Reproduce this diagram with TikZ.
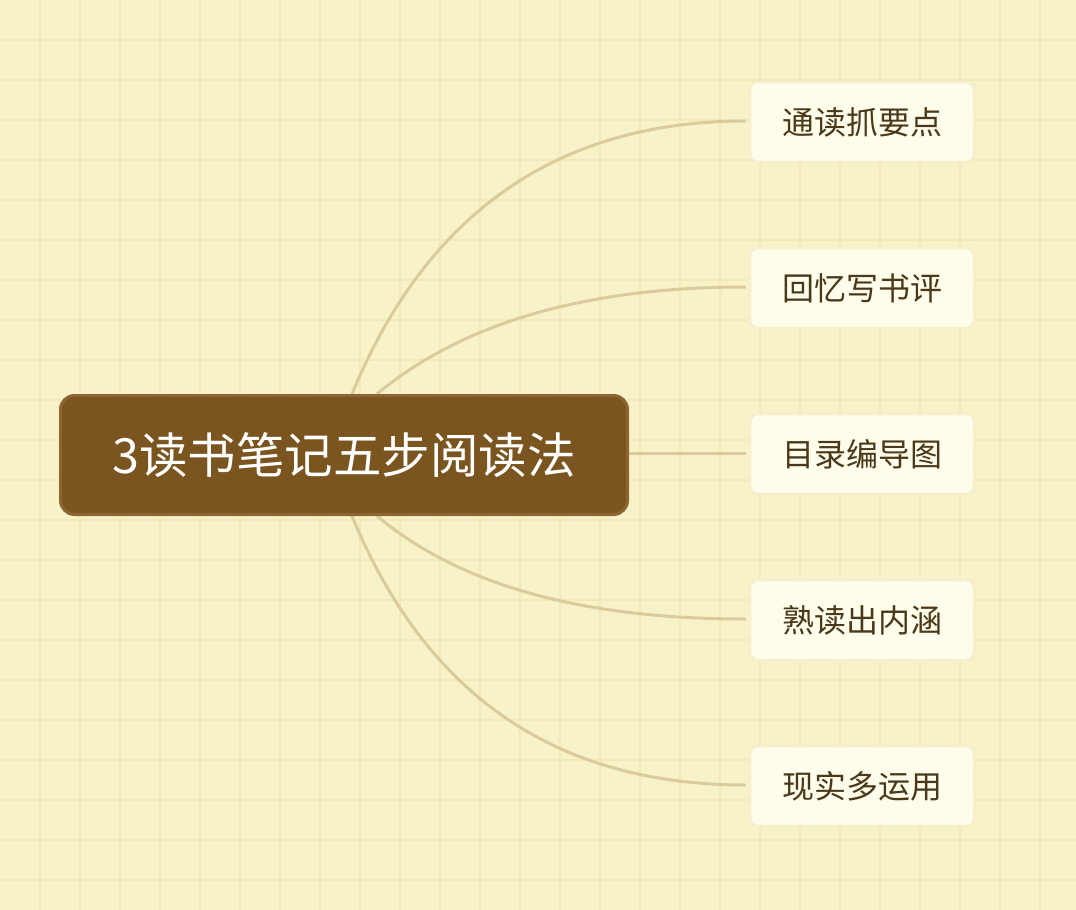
\documentclass[tikz,border=0pt]{standalone}
\usepackage{fontspec}
\newfontfamily\cjk{Noto Sans CJK SC}
\usetikzlibrary{calc}
\pgfdeclarelayer{bg}
\pgfsetlayers{bg,main}
\definecolor{paper}{HTML}{F7F2C8}
\definecolor{gridc}{HTML}{F2E9B5}
\definecolor{rootfill}{HTML}{7A5520}
\definecolor{rootedge}{HTML}{8D6532}
\definecolor{leaffill}{HTML}{FEFDEC}
\definecolor{leafedge}{HTML}{F5EFCD}
\definecolor{leaftext}{HTML}{4A3819}
\definecolor{linkc}{HTML}{DACB9D}
\tikzset{
  rootbox/.style={draw=rootedge, line width=3pt, fill=rootfill, rounded corners=14pt,
    minimum width=567pt, minimum height=119pt, inner sep=0pt, text=white,
    font=\cjk\fontsize{48.5}{52}\selectfont},
  leafbox/.style={draw=leafedge, line width=2.5pt, fill=leaffill, rounded corners=8pt,
    minimum width=224pt, minimum height=80pt, inner sep=0pt, text=leaftext,
    font=\cjk\fontsize{32}{35}\selectfont},
  link/.style={draw=linkc, line width=3pt},
  gridline/.style={draw=gridc, line width=2.5pt}
}
\begin{document}
\begin{tikzpicture}[x=1pt,y=-1pt]
\useasboundingbox (0,0) rectangle (1076,910);

\node[rootbox] (root) at (344,455) {3读书笔记五步阅读法};
\node[leafbox] (l1) at (862,122) {通读抓要点};
\node[leafbox] (l2) at (862,288) {回忆写书评};
\node[leafbox] (l3) at (862,454) {目录编导图};
\node[leafbox] (l4) at (862,620) {熟读出内涵};
\node[leafbox] (l5) at (862,786) {现实多运用};

\path (root.north west) ++(293,0) coordinate (s1);
\path (root.north west) ++(318,0) coordinate (s2);
\path (root.south west) ++(318,0) coordinate (s4);
\path (root.south west) ++(293,0) coordinate (s5);
\path (l1.west) ++(-3,-1) coordinate (e1);
\path (l2.west) ++(-3,-1) coordinate (e2);
\path (l3.west) ++(-3,-1) coordinate (e3);
\path (l4.west) ++(-3,-1) coordinate (e4);
\path (l5.west) ++(-3,-1) coordinate (e5);

\begin{pgfonlayer}{bg}
\fill[paper] (0,0) rectangle (1076,910);
\foreach \gx in {40,80,...,1040} \draw[gridline] (\gx,0) -- (\gx,910);
\foreach \gy in {40,80,...,880} \draw[gridline] (0,\gy) -- (1076,\gy);
\draw[link] (s1) .. controls ($(s1)+(75,-182)$) and ($(e1)+(-187,0)$) .. (e1);
\draw[link] (s2) .. controls ($(s2)+(85,-71)$) and ($(e2)+(-160,0)$) .. (e2);
\draw[link] (root.east |- e3) -- (e3);
\draw[link] (s4) .. controls ($(s4)+(85,71)$) and ($(e4)+(-160,0)$) .. (e4);
\draw[link] (s5) .. controls ($(s5)+(75,182)$) and ($(e5)+(-187,0)$) .. (e5);
\end{pgfonlayer}
\end{tikzpicture}
\end{document}
